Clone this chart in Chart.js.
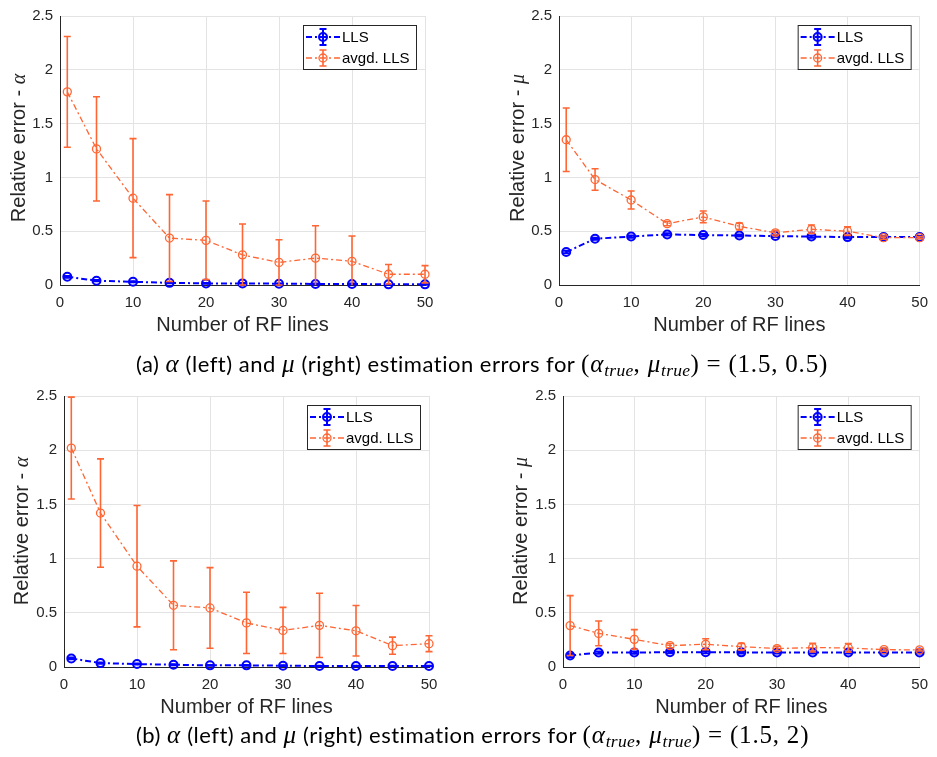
<!DOCTYPE html>
<html>
<head>
<meta charset="utf-8">
<script src="https://cdn.jsdelivr.net/npm/chart.js@4.4.0/dist/chart.umd.min.js"></script>
<style>
  body { margin: 0; background: #fff; }
  #page { position: relative; width: 937px; height: 757px; overflow: hidden; background: #fff; }
  canvas { position: absolute; }
  .ylab { position: absolute; font: 20px "Liberation Sans", Arial, sans-serif; color: #262626;
          white-space: nowrap; transform: translate(-50%, -50%) rotate(-90deg); }
  .ylab i { font-family: "Liberation Serif", serif; }
  .cap { position: absolute; left: 136px; text-align: left; font: 22px Lato, sans-serif;
         letter-spacing: 0.5px; line-height: 26px; color: #000; white-space: nowrap; }
  .m { font-family: "Liberation Serif", serif; font-style: italic; font-size: 25px; letter-spacing: 0.8px; }
  .r { font-family: "Liberation Serif", serif; font-size: 25px; letter-spacing: 0.8px; }
  .eq { margin: 0 7px; }
  sub { font-size: 70%; vertical-align: -4px; letter-spacing: 0.3px; }
</style>
</head>
<body>
<div id="page">
  <canvas id="c1" width="470" height="340" style="left:0;top:0"></canvas>
  <canvas id="c2" width="467" height="340" style="left:470px;top:0"></canvas>
  <canvas id="c3" width="470" height="342" style="left:0;top:380px"></canvas>
  <canvas id="c4" width="467" height="342" style="left:470px;top:380px"></canvas>

  <div class="ylab" style="left:18px;top:148px">Relative error - <i>α</i></div>
  <div class="ylab" style="left:517px;top:148px">Relative error - <i>μ</i></div>
  <div class="ylab" style="left:21px;top:531px">Relative error - <i>α</i></div>
  <div class="ylab" style="left:520px;top:531px">Relative error - <i>μ</i></div>

  <div class="cap" style="top:351px">(a) <span class="m">α</span> (left) and <span class="m">μ</span> (right) estimation errors for <span class="r">(</span><span class="m">α<sub>true</sub></span><span class="r">, </span><span class="m">μ<sub>true</sub></span><span class="r">)<span class="eq">=</span>(1.5, 0.5)</span></div>
  <div class="cap" style="top:722px">(b) <span class="m">α</span> (left) and <span class="m">μ</span> (right) estimation errors for <span class="r">(</span><span class="m">α<sub>true</sub></span><span class="r">, </span><span class="m">μ<sub>true</sub></span><span class="r">)<span class="eq">=</span>(1.5, 2)</span></div>
</div>

<script>
// x positions (number of RF lines)
const rfLines = [1, 5, 10, 15, 20, 25, 30, 35, 40, 45, 50];
const xTicks = [0, 10, 20, 30, 40, 50];
const yTicks = [0, 0.5, 1, 1.5, 2, 2.5];
const seriesNames = ['LLS', 'avgd. LLS'];

// (a) true = (1.5, 0.5), alpha error
const aAlphaLls    = [0.076, 0.040, 0.030, 0.020, 0.015, 0.015, 0.012, 0.010, 0.010, 0.006, 0.006];
const aAlphaLlsErr = [0.008, 0.006, 0.005, 0.004, 0.004, 0.004, 0.003, 0.003, 0.003, 0.003, 0.003];
const aAlphaAvg    = [1.795, 1.265, 0.807, 0.436, 0.415, 0.280, 0.210, 0.250, 0.220, 0.100, 0.100];
const aAlphaAvgErr = [0.515, 0.485, 0.553, 0.404, 0.365, 0.287, 0.210, 0.300, 0.235, 0.090, 0.080];

// (a) mu error
const aMuLls    = [0.306, 0.430, 0.450, 0.470, 0.464, 0.460, 0.455, 0.450, 0.445, 0.445, 0.445];
const aMuLlsErr = [0.012, 0.010, 0.010, 0.010, 0.010, 0.010, 0.010, 0.010, 0.010, 0.010, 0.010];
const aMuAvg    = [1.350, 0.980, 0.790, 0.570, 0.633, 0.545, 0.485, 0.518, 0.500, 0.440, 0.440];
const aMuAvgErr = [0.295, 0.100, 0.083, 0.020, 0.055, 0.030, 0.020, 0.040, 0.040, 0.015, 0.010];

// (b) true = (1.5, 2), alpha error
const bAlphaLls    = [0.079, 0.036, 0.027, 0.021, 0.015, 0.015, 0.012, 0.009, 0.009, 0.009, 0.009];
const bAlphaLlsErr = [0.008, 0.006, 0.005, 0.004, 0.004, 0.004, 0.003, 0.003, 0.003, 0.003, 0.003];
const bAlphaAvg    = [2.020, 1.420, 0.930, 0.569, 0.545, 0.407, 0.337, 0.384, 0.334, 0.197, 0.215];
const bAlphaAvgErr = [0.470, 0.500, 0.560, 0.410, 0.372, 0.283, 0.213, 0.296, 0.233, 0.079, 0.073];

// (b) mu error
const bMuLls    = [0.106, 0.133, 0.133, 0.137, 0.137, 0.135, 0.134, 0.134, 0.134, 0.134, 0.134];
const bMuLlsErr = [0.015, 0.010, 0.010, 0.010, 0.010, 0.010, 0.010, 0.010, 0.010, 0.010, 0.010];
const bMuAvg    = [0.382, 0.310, 0.255, 0.197, 0.210, 0.188, 0.170, 0.179, 0.176, 0.160, 0.158];
const bMuAvgErr = [0.276, 0.114, 0.090, 0.020, 0.051, 0.030, 0.020, 0.040, 0.040, 0.015, 0.010];

const BLUE = '#0000ff';
const ORANGE = '#ff6633';
const AXIS = '#262626';
const SANS = '"Liberation Sans", Arial, sans-serif';

// vertical error bars with caps, drawn from the y scale
const errorBars = {
  id: 'errorBars',
  afterDatasetDraw(chart, args) {
    const ds = chart.data.datasets[args.index];
    if (!ds.errors) return;
    const { ctx, chartArea } = chart;
    const y = chart.scales.y;
    ctx.save();
    ctx.strokeStyle = ds.borderColor;
    ctx.lineWidth = ds.errWidth;
    args.meta.data.forEach((pt, i) => {
      const v = ds.data[i].y, e = ds.errors[i];
      let yHi = y.getPixelForValue(v + e), yLo = y.getPixelForValue(v - e);
      const hiCap = yHi >= chartArea.top - 1, loCap = yLo <= chartArea.bottom + 1;
      yHi = Math.max(yHi, chartArea.top);
      yLo = Math.min(yLo, chartArea.bottom);
      ctx.beginPath();
      ctx.moveTo(pt.x, yHi); ctx.lineTo(pt.x, yLo);
      if (hiCap) { ctx.moveTo(pt.x - 3.5, yHi); ctx.lineTo(pt.x + 3.5, yHi); }
      if (loCap) { ctx.moveTo(pt.x - 3.5, yLo); ctx.lineTo(pt.x + 3.5, yLo); }
      ctx.stroke();
    });
    ctx.restore();
  }
};

// boxed legend inside the top right corner of the plot
const boxLegend = {
  id: 'boxLegend',
  afterDraw(chart) {
    const { ctx, chartArea } = chart;
    const w = 113, h = 44;
    const left = chartArea.right - 9 - w, top = chartArea.top + 9;
    ctx.save();
    ctx.fillStyle = '#fff';
    ctx.fillRect(left, top, w, h);
    ctx.strokeStyle = AXIS;
    ctx.lineWidth = 1;
    ctx.strokeRect(left + 0.5, top + 0.5, w, h);
    // LLS row first, avgd. LLS second
    const items = chart.data.datasets.slice().sort((a, b) => a.legendRow - b.legendRow);
    items.forEach((ds, k) => {
      const cy = top + 12 + k * 21;
      ctx.strokeStyle = ds.borderColor;
      ctx.lineWidth = ds.borderWidth;
      ctx.setLineDash(ds.borderDash);
      ctx.beginPath();
      ctx.moveTo(left + 3, cy); ctx.lineTo(left + 37, cy);
      ctx.stroke();
      ctx.setLineDash([]);
      ctx.lineWidth = ds.errWidth;
      ctx.beginPath();
      ctx.moveTo(left + 20, cy - 8); ctx.lineTo(left + 20, cy + 8);
      ctx.moveTo(left + 16.5, cy - 8); ctx.lineTo(left + 23.5, cy - 8);
      ctx.moveTo(left + 16.5, cy + 8); ctx.lineTo(left + 23.5, cy + 8);
      ctx.stroke();
      ctx.lineWidth = ds.pointBorderWidth;
      ctx.beginPath();
      ctx.arc(left + 20, cy, 4, 0, Math.PI * 2);
      ctx.stroke();
      ctx.fillStyle = '#000';
      ctx.font = '15px ' + SANS;
      ctx.textBaseline = 'middle';
      ctx.fillText(ds.label, left + 39, cy + 1);
    });
    ctx.restore();
  }
};

function points(ys) {
  return rfLines.map((x, i) => ({ x: x, y: ys[i] }));
}

function makePanel(id, lls, llsErr, avg, avgErr, yAxisWidth, padding) {
  new Chart(document.getElementById(id), {
    type: 'line',
    data: {
      datasets: [
        {
          label: seriesNames[1], data: points(avg), errors: avgErr, legendRow: 1, order: 0,
          borderColor: ORANGE, borderWidth: 1.3, borderDash: [6, 3, 2, 3], errWidth: 1.6,
          pointRadius: 4, pointBorderWidth: 1.3, pointBorderColor: ORANGE,
          pointBackgroundColor: 'rgba(0,0,0,0)', tension: 0, clip: false
        },
        {
          label: seriesNames[0], data: points(lls), errors: llsErr, legendRow: 0, order: 1,
          borderColor: BLUE, borderWidth: 2, borderDash: [6, 3, 2, 3], errWidth: 2,
          pointRadius: 4, pointBorderWidth: 2, pointBorderColor: BLUE,
          pointBackgroundColor: 'rgba(0,0,0,0)', tension: 0, clip: false
        }
      ]
    },
    options: {
      responsive: false,
      animation: false,
      devicePixelRatio: 1,
      layout: { padding: padding },
      plugins: { legend: { display: false }, tooltip: { enabled: false } },
      scales: {
        x: {
          type: 'linear', min: 0, max: 50,
          afterBuildTicks: s => { s.ticks = xTicks.map(v => ({ value: v })); },
          afterFit: s => { s.height = 55; },
          grid: { color: '#e3e3e3', drawTicks: false },
          border: { color: AXIS, width: 1 },
          ticks: { color: AXIS, padding: 9, font: { size: 15, family: SANS }, callback: v => String(v) },
          title: {
            display: true, text: 'Number of RF lines', color: AXIS,
            font: { size: 20, family: SANS }, padding: { top: 0, bottom: 3 }
          }
        },
        y: {
          type: 'linear', min: 0, max: 2.5,
          afterBuildTicks: s => { s.ticks = yTicks.map(v => ({ value: v })); },
          afterFit: s => { s.width = yAxisWidth; },
          grid: { color: '#e3e3e3', drawTicks: false },
          border: { color: AXIS, width: 1 },
          ticks: { color: AXIS, padding: 7, font: { size: 15, family: SANS }, callback: v => String(v) }
        }
      }
    },
    plugins: [errorBars, boxLegend]
  });
}

makePanel('c1', aAlphaLls, aAlphaLlsErr, aAlphaAvg, aAlphaAvgErr, 60, { top: 10, right: 45, left: 0, bottom: 0 });
makePanel('c2', aMuLls, aMuLlsErr, aMuAvg, aMuAvgErr, 89, { top: 10, right: 13, left: 0, bottom: 0 });
makePanel('c3', bAlphaLls, bAlphaLlsErr, bAlphaAvg, bAlphaAvgErr, 64, { top: 13, right: 41, left: 0, bottom: 0 });
makePanel('c4', bMuLls, bMuLlsErr, bMuAvg, bMuAvgErr, 93, { top: 13, right: 9, left: 0, bottom: 0 });
</script>
</body>
</html>
